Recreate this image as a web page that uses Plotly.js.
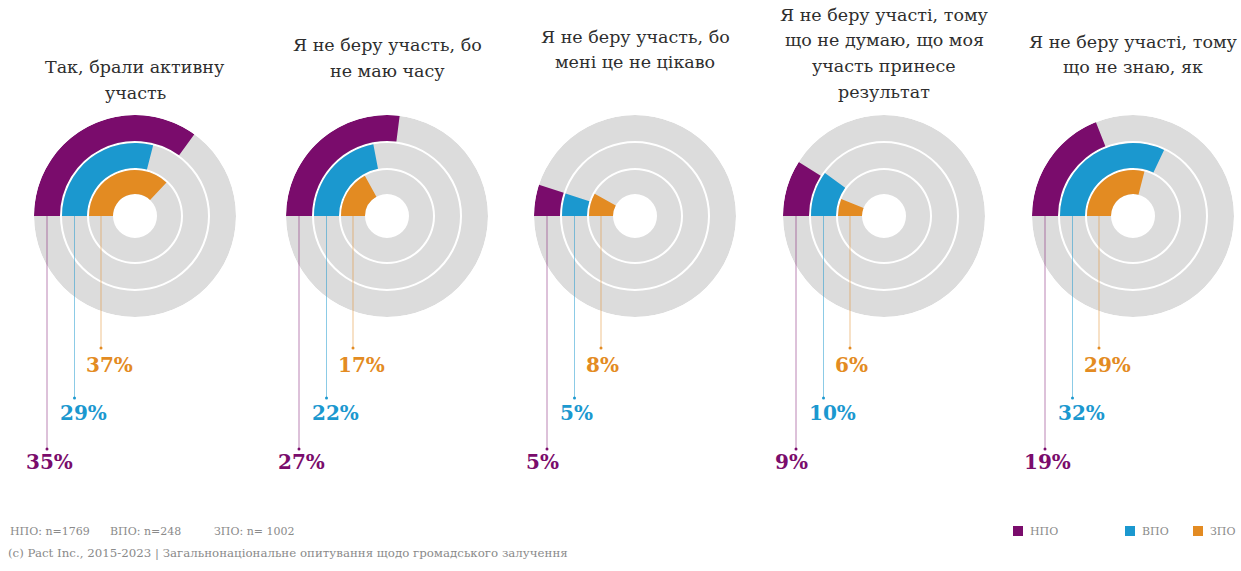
<!DOCTYPE html>
<html><head><meta charset="utf-8">
<script src="https://cdn.plot.ly/plotly-3.0.1.min.js"></script>
<style>html,body{margin:0;padding:0;background:#fff}#c{width:1241px;height:571px}</style>
</head><body><div id="c"></div>
<script>
// ---- data ----
const categories = [
  "Так, брали активну<br>участь",
  "Я не беру участь, бо<br>не маю часу",
  "Я не беру участь, бо<br>мені це не цікаво",
  "Я не беру участі, тому<br>що не думаю, що моя<br>участь принесе<br>результат",
  "Я не беру участі, тому<br>що не знаю, як"
];
const seriesNames = ["НПО", "ВПО", "ЗПО"];
const npo = [35, 27, 5, 9, 19];
const vpo = [29, 22, 5, 10, 32];
const zpo = [37, 17, 8, 6, 29];
const sampleNote = ["НПО: n=1769", "ВПО: n=248", "ЗПО: n= 1002"];
const sourceNote = "(c) Pact Inc., 2015-2023 | Загальнонаціональне опитування щодо громадського залучення";

// ---- style ----
const W = 1241, H = 571;
const colors = ["#7a0c6c", "#1b98cf", "#e38b22"];
const gray = "#dcdcdc";
const serif = "DejaVu Serif, Liberation Serif, serif";
const centersX = [135, 387, 635, 884, 1133];
const centerY = 216;
const R = 101;
// ring geometry [base, thickness] for НПО (outer), ВПО, ЗПО (inner)
const rings = [[75, 26], [48, 25], [22, 24]];
const titleFirstY = [67, 45, 37, 15, 42];
const titleLineGap = 25.5;
const dotY = [449, 398, 348];
const labelY = [462, 413, 365];
const labelDx = [-23, -17, -17];

const seriesVals = [npo, vpo, zpo];
const px = x => x / W;
const py = y => 1 - y / H;

const traces = [];
const layout = {
  width: W, height: H,
  margin: {l: 0, r: 0, t: 0, b: 0},
  paper_bgcolor: "#fff",
  showlegend: false,
  shapes: [],
  annotations: [],
  font: {family: serif}
};

categories.forEach((cat, i) => {
  const pid = i === 0 ? "polar" : "polar" + (i + 1);
  const cx = centersX[i];
  layout[pid] = {
    domain: {x: [px(cx - R), px(cx + R)], y: [py(centerY + R), py(centerY - R)]},
    bgcolor: "rgba(0,0,0,0)",
    barmode: "overlay",
    radialaxis: {range: [0, R], visible: false, showgrid: false},
    angularaxis: {rotation: 180, direction: "clockwise", visible: false, showgrid: false}
  };
  // gray background rings
  traces.push({
    type: "barpolar", subplot: pid, hoverinfo: "skip",
    theta: [180, 180, 180], width: [360, 360, 360],
    base: rings.map(r => r[0]), r: rings.map(r => r[1]),
    marker: {color: gray, line: {width: 0}}
  });
  seriesVals.forEach((vals, s) => {
    const v = vals[i];
    traces.push({
      type: "barpolar", subplot: pid, name: seriesNames[s],
      theta: [v * 3.6 / 2], width: [v * 3.6],
      base: [rings[s][0]], r: [rings[s][1]],
      marker: {color: colors[s], line: {width: 0}},
      hovertemplate: seriesNames[s] + ": " + v + "%<extra></extra>"
    });
    const lx = cx - (rings[s][0] + rings[s][1] / 2);
    layout.shapes.push({
      type: "line", xref: "paper", yref: "paper",
      x0: px(lx), x1: px(lx), y0: py(centerY), y1: py(dotY[s]),
      line: {color: colors[s], width: 1}, opacity: 0.5
    });
    layout.shapes.push({
      type: "circle", xref: "paper", yref: "paper",
      x0: px(lx - 1.5), x1: px(lx + 1.5), y0: py(dotY[s] + 1.5), y1: py(dotY[s] - 1.5),
      fillcolor: colors[s], line: {width: 0}
    });
    layout.annotations.push({
      xref: "paper", yref: "paper", x: px(lx + labelDx[s]), y: py(labelY[s]),
      xanchor: "left", yanchor: "middle", showarrow: false,
      text: "<b>" + v + "%</b>",
      font: {family: serif, size: 20, color: colors[s]}
    });
  });
  cat.split("<br>").forEach((line, k) => {
    layout.annotations.push({
      xref: "paper", yref: "paper", x: px(cx), y: py(titleFirstY[i] + k * titleLineGap),
      xanchor: "center", yanchor: "middle", showarrow: false,
      text: line,
      font: {family: serif, size: 17.5, color: "#2e2e2e"}
    });
  });
});

// footer
const noteX = [8, 108, 212];
sampleNote.forEach((t, k) => {
  layout.annotations.push({
    xref: "paper", yref: "paper", x: px(noteX[k]), y: py(531), xanchor: "left", yanchor: "middle",
    showarrow: false, text: t, font: {family: serif, size: 11, color: "#8a8a8a"}
  });
});
layout.annotations.push({
  xref: "paper", yref: "paper", x: px(6), y: py(553), xanchor: "left", yanchor: "middle",
  showarrow: false, text: sourceNote, font: {family: serif, size: 11.8, color: "#8a8a8a"}
});
// legend
const legX = [1013, 1125, 1193];
seriesNames.forEach((n, s) => {
  layout.shapes.push({
    type: "rect", xref: "paper", yref: "paper",
    x0: px(legX[s]), x1: px(legX[s] + 10), y0: py(536), y1: py(526),
    fillcolor: colors[s], line: {width: 0}
  });
  layout.annotations.push({
    xref: "paper", yref: "paper", x: px(legX[s] + 15), y: py(531), xanchor: "left", yanchor: "middle",
    showarrow: false, text: n, font: {family: serif, size: 11, color: "#8a8a8a"}
  });
});

Plotly.newPlot("c", traces, layout, {staticPlot: true, displayModeBar: false});
</script></body></html>
